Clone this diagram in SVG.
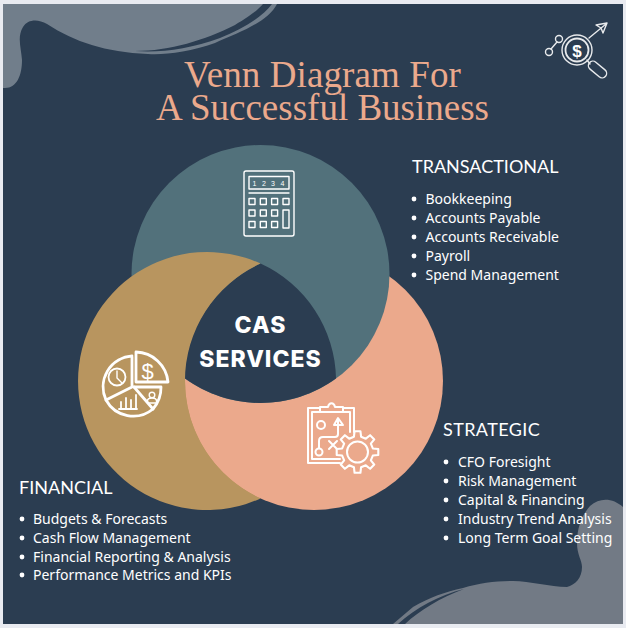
<svg xmlns="http://www.w3.org/2000/svg" width="626" height="628" viewBox="0 0 626 628">
<style>
.title{font-family:"Liberation Serif",serif;font-size:37px;fill:#eba98c;letter-spacing:.1px}
.head{font-family:"Lato",sans-serif;font-size:18px;fill:#fff}
.li{font-family:"Noto Sans",sans-serif;font-size:14px;fill:#fff}
.dot{fill:#fff}
.ic{fill:none;stroke:#fff;stroke-width:2.800;stroke-linejoin:round;stroke-linecap:round}
.ic2{fill:none;stroke:#fff;stroke-width:1.400;stroke-linejoin:round;stroke-linecap:round}
.cas{font-family:"Inter",sans-serif;font-weight:800;font-size:23px;fill:#fff;text-anchor:middle;letter-spacing:1px}
.gl{font-family:"Liberation Sans",sans-serif;fill:#fff;stroke:none;text-anchor:middle}
</style>
<rect width="626" height="628" fill="#e9ebf1"/>
<rect x="3" y="4" width="620" height="620" fill="#2b3d51"/>
<g id="blobs">
<path d="M3 4H277C268 22 240 32 215 43C190 52 165 55 148 54C105 52 75 42 47 24C38 19 28 19 23 27C17 37 21 47 22 60C22 75 17 88 5 88H3Z" fill="#717e8b"/>
<path d="M135 51C170 51 205 40 235 25C250 16 258 10 263 4H272C262 18 240 30 220 38C190 49 160 53 135 51Z" fill="#2b3d51"/>
<path d="M623 624H393L413 607C430 597 445 592 463 588C480 583 495 581 513 581C530 581 550 587 567 587C575 585 582 578 582 567C582 560 577 555 577 543C577 527 582 515 590 506C600 497 613 498 623 507Z" fill="#727a85"/>
<path d="M464 589C440 595 415 608 398 624H405C420 610 440 598 464 589Z" fill="#2b3d51"/>
</g>
<g id="title">
<text class="title" x="184" y="86.500">Venn Diagram For</text>
<text class="title" x="156" y="120" style="letter-spacing:0">A Successful Business</text>
</g>
<g id="venn">
<circle id="tan-under" cx="207" cy="381" r="128" fill="#b8955f"/>
<circle id="peach" cx="314" cy="381" r="129" fill="#eba98c"/>
<circle id="teal" cx="260.5" cy="274" r="129" fill="#52717b"/>
<path id="core" d="M260.500 263.600A130 130 0 0 0 184 381L185 378.600A129 129 0 0 0 336 378.600A129 129 0 0 0 260.500 263.600Z" fill="#2b3d51"/>
<path id="tan" d="M260.500 263.600A129 129 0 1 0 260.500 498.400A129 129 0 0 1 260.500 263.600Z" fill="#b8955f"/>
</g>
<g id="cas">
<text class="cas" x="260.500" y="333">CAS</text>
<text class="cas" x="260.500" y="367">SERVICES</text>
</g>
<g id="icon-calculator" class="ic2">
<rect x="244" y="171" width="50" height="65" rx="2"/>
<rect x="249" y="176.500" width="40" height="12.500"/>
<path d="M249 193H289"/>
<rect x="249" y="198.500" width="6" height="6"/><rect x="260.300" y="198.500" width="6" height="6"/><rect x="271.600" y="198.500" width="6" height="6"/><rect x="283" y="198.500" width="6" height="6"/>
<rect x="249" y="210" width="6" height="6"/><rect x="260.300" y="210" width="6" height="6"/><rect x="271.600" y="210" width="6" height="6"/>
<rect x="249" y="221.500" width="6" height="6"/><rect x="260.300" y="221.500" width="6" height="6"/><rect x="271.600" y="221.500" width="6" height="6"/>
<rect x="283" y="210" width="6" height="18"/>
<text class="gl" x="254.500" y="186" font-size="7">1</text><text class="gl" x="264" y="186" font-size="7">2</text><text class="gl" x="273" y="186" font-size="7">3</text><text class="gl" x="282.500" y="186" font-size="7">4</text>
</g>
<g id="icon-pie" class="ic">
<path d="M132 357V387L106 400A31 31 0 0 1 132 356"/>
<path d="M106 400A31 31 0 0 0 153 409L134 387"/>
<path d="M134 387H161A33 33 0 0 1 153 409"/>
<path d="M136 352V382H168A33 33 0 0 0 136 352Z"/>
<circle cx="117" cy="377" r="8.500" class="ic2" style="stroke-width:1.800"/>
<path class="ic2" d="M117 371V378L122 383"/>
<path class="ic2" style="stroke-width:1.800" d="M119 409H137M121 408V402M126 408V398M131 408V400M136 408V395"/>
<circle class="ic2" cx="152" cy="395" r="2.800"/>
<path class="ic2" d="M147.500 403V401C147.500 397 156.500 397 156.500 401V403Z"/>
<text class="gl" x="147.500" y="379" font-size="22">$</text>
</g>
<g id="icon-clipboard" class="ic2" style="stroke-width:2">
<path d="M320 408H308V463H340M343 408H354V432M312 412H320M343 412H350V432M312 412V459H340"/>
<path d="M320 412V407H328C329 402 334 402 335 407H343V412Z"/>
<circle cx="321" cy="425" r="4"/>
<circle cx="319" cy="452" r="3.500"/>
<path d="M319 448V441Q319 437 323 437H335Q338 437 338 434V420"/>
<path d="M334 425L338 418L343 425Z"/>
<path d="M329 441L337 449M337 441L329 449"/>
<polygon fill="#eba98c" transform="translate(357.500 452) scale(1.050)" points="14.600,-3.400 19.800,-2.800 19.800,2.800 14.600,3.400 12.700,7.900 16,12 12,16 7.900,12.700 3.400,14.600 2.800,19.800 -2.800,19.800 -3.400,14.600 -7.900,12.700 -12,16 -16,12 -12.700,7.900 -14.600,3.400 -19.800,2.800 -19.800,-2.800 -14.600,-3.400 -12.700,-7.900 -16,-12 -12,-16 -7.900,-12.700 -3.400,-14.600 -2.800,-19.800 2.800,-19.800 3.400,-14.600 7.900,-12.700 12,-16 16,-12 12.700,-7.900"/>
<circle cx="357.500" cy="452" r="10.500"/>
</g>
<g id="icon-magnifier" class="ic2" style="stroke:#e8eaec">
<circle cx="577" cy="50" r="15"/>
<circle cx="577" cy="50" r="11.500" style="stroke-width:1.800"/>
<text class="gl" x="577" y="56.500" font-size="17" font-weight="700">$</text>
<path d="M587 60L590 64"/>
<rect x="587" y="65" width="21" height="9" rx="4.500" transform="rotate(40 597.500 69.500)"/>
<circle cx="559" cy="39" r="3.500"/>
<circle cx="549" cy="52" r="3.500"/>
<path d="M551 49L557 42M589 38L606 24M596 25L607 23L603 33L601 28Z"/>
</g>
<g id="transactional">
<text class="head" x="412" y="173">TRANSACTIONAL</text>
<circle class="dot" cx="414" cy="199" r="2.400"/><text class="li" x="425.500" y="204">Bookkeeping</text>
<circle class="dot" cx="414" cy="218" r="2.400"/><text class="li" x="425.500" y="223">Accounts Payable</text>
<circle class="dot" cx="414" cy="237" r="2.400"/><text class="li" x="425.500" y="242">Accounts Receivable</text>
<circle class="dot" cx="414" cy="256" r="2.400"/><text class="li" x="425.500" y="261">Payroll</text>
<circle class="dot" cx="414" cy="275" r="2.400"/><text class="li" x="425.500" y="280">Spend Management</text>
</g>
<g id="strategic">
<text class="head" x="443" y="436" style="letter-spacing:.4px">STRATEGIC</text>
<circle class="dot" cx="446" cy="462" r="2.400"/><text class="li" x="458" y="467">CFO Foresight</text>
<circle class="dot" cx="446" cy="481" r="2.400"/><text class="li" x="458" y="486">Risk Management</text>
<circle class="dot" cx="446" cy="500" r="2.400"/><text class="li" x="458" y="505">Capital &amp; Financing</text>
<circle class="dot" cx="446" cy="519" r="2.400"/><text class="li" x="458" y="524">Industry Trend Analysis</text>
<circle class="dot" cx="446" cy="538" r="2.400"/><text class="li" x="458" y="543">Long Term Goal Setting</text>
</g>
<g id="financial">
<text class="head" x="19" y="493.500">FINANCIAL</text>
<circle class="dot" cx="22" cy="519" r="2.400"/><text class="li" x="33" y="524">Budgets &amp; Forecasts</text>
<circle class="dot" cx="22" cy="538" r="2.400"/><text class="li" x="33" y="543">Cash Flow Management</text>
<circle class="dot" cx="22" cy="557" r="2.400"/><text class="li" x="33" y="562">Financial Reporting &amp; Analysis</text>
<circle class="dot" cx="22" cy="575" r="2.400"/><text class="li" x="33" y="580">Performance Metrics and KPIs</text>
</g>
</svg>
